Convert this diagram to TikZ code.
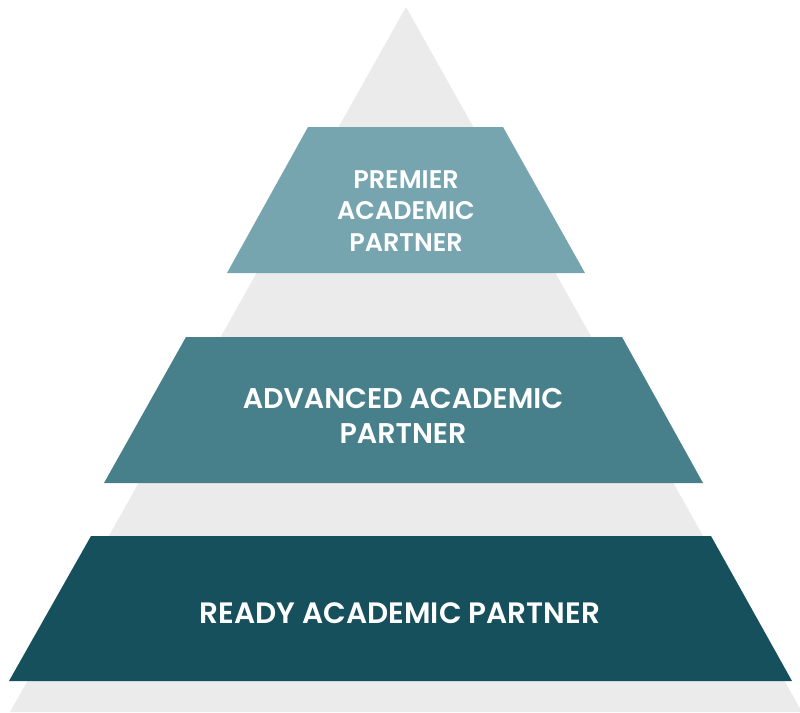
\documentclass[tikz,border=0pt]{standalone}
\usepackage{fontspec}
\newfontfamily\tierfont{Poppins SemiBold}
\definecolor{pyrgray}{HTML}{EBEBEB}
\definecolor{tiertop}{HTML}{76A5AF}
\definecolor{tiermid}{HTML}{477F8B}
\definecolor{tierlow}{HTML}{16505C}

\begin{document}
\begin{tikzpicture}[x=1pt,y=-1pt,
        tiertext/.style={text=white,align=center,inner sep=0pt}]
        \useasboundingbox (0,0) rectangle (800,712);
        \clip (0,0) rectangle (800,712);
        % Background pyramid:
        \fill [pyrgray] (406,7) -- (802,712) -- (10,712) -- cycle;

        % Tiers, from top to bottom:
        \fill [tiertop] (308,127) -- (503,127) -- (585,273) -- (227,273) -- cycle;
        \fill [tiermid] (186,337) -- (622,337) -- (703,483) -- (104,483) -- cycle;
        \fill [tierlow] (91,536) -- (711,536) -- (792,681) -- (9,681) -- cycle;

        \node [tiertext,font=\tierfont\fontsize{25.5}{31.5}\selectfont] (premier) at (406,211) {PREMIER\\ACADEMIC\\PARTNER};
        \node [tiertext,font=\tierfont\fontsize{28.5}{34.5}\selectfont] (advanced) at (403,416) {ADVANCED ACADEMIC\\PARTNER};
        \node [tiertext,font=\tierfont\fontsize{29.5}{34}\selectfont] (ready) at (400,613) {READY ACADEMIC PARTNER};
    \end{tikzpicture}
\end{document}
